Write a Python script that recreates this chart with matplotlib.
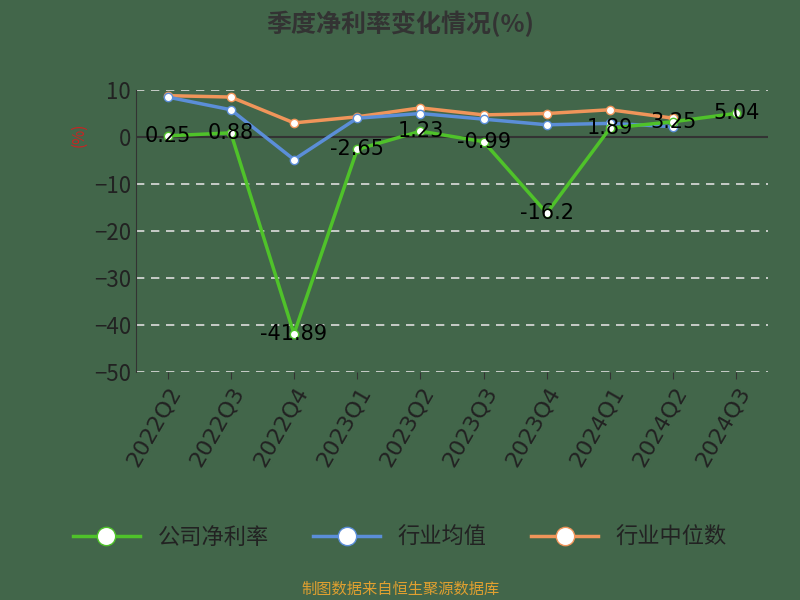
import matplotlib
matplotlib.use("Agg")
import matplotlib.pyplot as plt

plt.rcParams['font.family'] = ['Noto Sans CJK SC', 'DejaVu Sans']

quarters = ["2022Q2","2022Q3","2022Q4","2023Q1","2023Q2","2023Q3","2023Q4","2024Q1","2024Q2","2024Q3"]
company = [0.25, 0.88, -41.89, -2.65, 1.23, -0.99, -16.2, 1.89, 3.25, 5.04]
ind_avg = [8.5, 5.8, -4.8, 4.0, 5.0, 3.8, 2.6, 2.9, 2.2]
ind_med = [8.8, 8.5, 3.0, 4.3, 6.2, 4.7, 5.0, 5.8, 4.0]

bg = '#42664a'
fig = plt.figure(figsize=(8, 6), dpi=100, facecolor=bg)
ax = fig.add_axes([0.17, 0.38, 0.79, 0.47], facecolor=bg)
x = list(range(len(quarters)))
ax.plot(x[:9], ind_med, color='#f0955a', lw=2.5, marker='o', ms=6, mfc='white', mec='#f0955a', zorder=3, label='行业中位数')
ax.plot(x[:9], ind_avg, color='#5b8ed8', lw=2.5, marker='o', ms=6, mfc='white', mec='#5b8ed8', zorder=3, label='行业均值')
ax.plot(x, company, color='#4fc22a', lw=2.5, marker='o', ms=6, mfc='white', mec='#4fc22a', zorder=4, label='公司净利率')
for xi, v in zip(x, company):
    ax.text(xi, v, f"{v:.2f}".rstrip('0') if v != 0.88 else "0.88", fontsize=15, ha='center', va='center', color='black', zorder=5, family='DejaVu Sans')

ax.set_xlim(-0.5, 9.5)
ax.set_ylim(-50, 10)
ax.set_yticks(range(-50, 11, 10))
ax.set_xticks(x)
ax.set_xticklabels(quarters, rotation=60, ha='right', rotation_mode='anchor', fontsize=16, color='#222222', family='DejaVu Sans')
ax.tick_params(axis='y', labelsize=16, labelcolor='#222222', length=0)
ax.tick_params(axis='x', length=5, color='#333333')
ax.grid(axis='y', color='#dddddd', ls=(0, (5, 4)), lw=1.2)
ax.axhline(0, color='#333333', lw=1.5, zorder=2.5)
for s in ['top', 'right', 'bottom']:
    ax.spines[s].set_visible(False)
ax.spines['left'].set_color('#333333')
ax.text(-0.09, 0.84, '(%)', transform=ax.transAxes, rotation=90, color='#cc2222', fontsize=11, ha='center', va='center')

fig.text(0.5, 0.96, '季度净利率变化情况(%)', ha='center', va='center', fontsize=18, fontweight='bold', color='#333333')
h, l = ax.get_legend_handles_labels()
fig.legend(h[::-1], l[::-1], loc='center', bbox_to_anchor=(0.5, 0.105), ncol=3, frameon=False, fontsize=16, handlelength=3, markerscale=2.2, labelcolor='#222222', columnspacing=2)
fig.text(0.5, 0.018, '制图数据来自恒生聚源数据库', ha='center', va='center', fontsize=11, color='#e0a030')
fig.savefig('out.png', dpi=100, facecolor=bg)
